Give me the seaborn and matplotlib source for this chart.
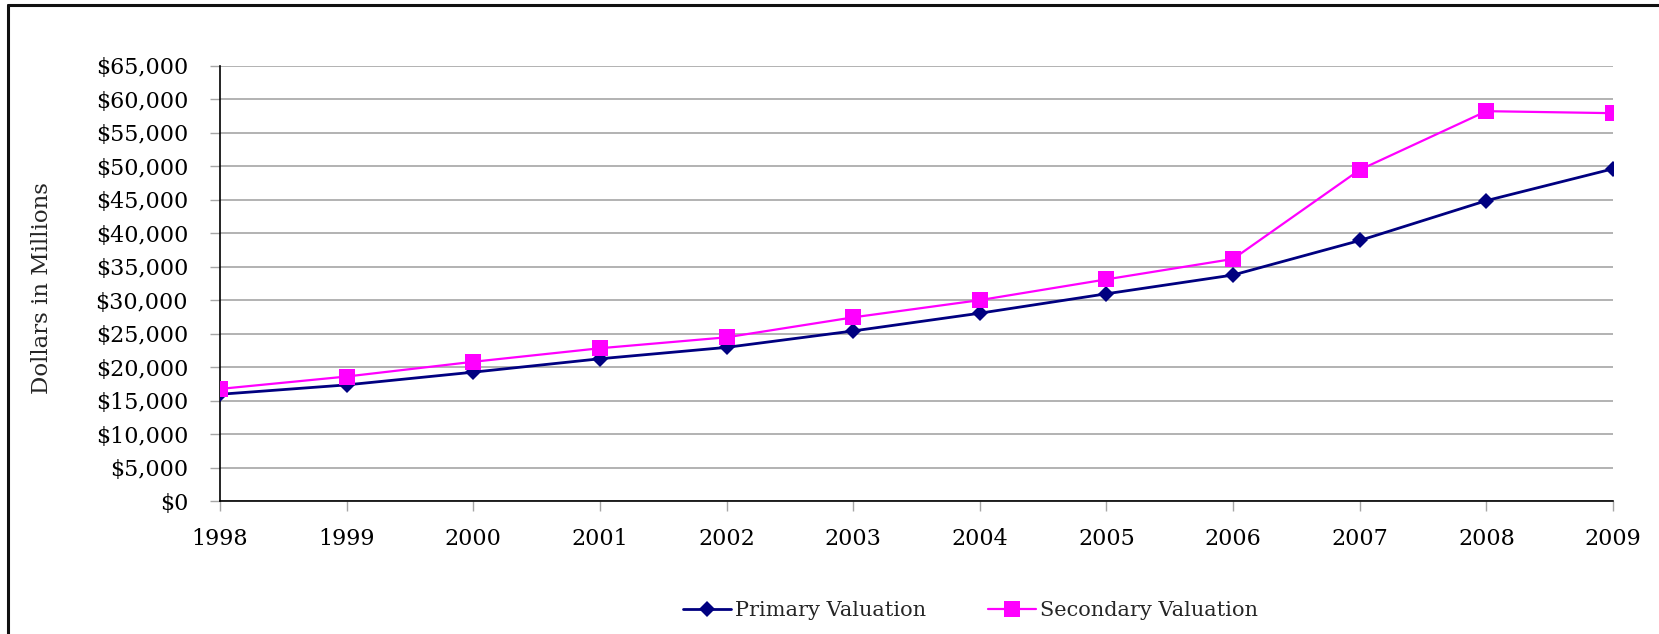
import numpy as np
import pandas as pd
import matplotlib
matplotlib.use('Agg')
import matplotlib.pyplot as plt
import matplotlib.ticker as mticker
from matplotlib.lines import Line2D
import seaborn as sns

years = [1998, 1999, 2000, 2001, 2002, 2003, 2004, 2005, 2006, 2007, 2008, 2009]
primary = [16000, 17400, 19300, 21300, 23000, 25450, 28100, 31000, 33800, 38950, 44900, 49650]
secondary = [16800, 18650, 20850, 22870, 24500, 27480, 30050, 33150, 36200, 49500, 58250, 57950]
series_names = ['Primary Valuation', 'Secondary Valuation']
series_colors = ['#000080', '#FF00FF']
series_markers = ['D', 's']

df = pd.DataFrame({'Year': years, series_names[0]: primary, series_names[1]: secondary})
long_df = df.melt(id_vars='Year', var_name='Series', value_name='Value')

sns.set_style('white')
plt.rcParams['font.family'] = ['DejaVu Serif']

fig = plt.figure(figsize=(16.59, 6.34), dpi=100)
ax = fig.add_axes([0.1326, 0.2090, 0.9723 - 0.1326, 0.8960 - 0.2090])

for name, color, marker, msize, lw in zip(series_names, series_colors, series_markers, [8.5, 11.5], [2.0, 1.6]):
    sub = long_df[long_df['Series'] == name]
    sns.lineplot(data=sub, x='Year', y='Value', ax=ax, color=color, marker=marker,
                 markersize=msize, markeredgewidth=0, linewidth=lw, label=name, zorder=3)

ax.set_xlim(years[0], years[-1])
ax.set_ylim(0, 65000)
ax.set_xticks(years)
ax.set_yticks(np.arange(0, 65001, 5000))
ax.yaxis.set_major_formatter(mticker.FuncFormatter(lambda v, p: f'${v:,.0f}'))
ax.grid(axis='y', color='#a6a6a6', linewidth=1.2, zorder=0)
ax.grid(axis='x', visible=False)

for s in ['top', 'right']:
    ax.spines[s].set_visible(False)
for s in ['left', 'bottom']:
    ax.spines[s].set_color('black')
    ax.spines[s].set_linewidth(1.2)

ax.tick_params(axis='both', labelsize=16, colors='#a6a6a6', labelcolor='black',
               length=7, width=1, direction='out', left=True, bottom=True)
ax.tick_params(axis='x', pad=12)
ax.tick_params(axis='y', pad=16)
ax.set_xlabel('')
ax.set_ylabel('Dollars in Millions', fontsize=16.5)
ax.yaxis.set_label_coords(-0.12, 0.49)

ax.get_legend().remove()
handles, labels = ax.get_legend_handles_labels()
fig.legend(handles, labels, loc='center', bbox_to_anchor=(0.585, 0.037), ncol=2, frameon=False,
           fontsize=15, handlelength=2.3, handletextpad=0.2, columnspacing=3.0)

# outer chart border (top and left only visible)
fig.add_artist(Line2D([0.0048, 0.0048], [0, 0.992], transform=fig.transFigure, color='#111111', linewidth=2.2))
fig.add_artist(Line2D([0.0048, 1.0], [0.992, 0.992], transform=fig.transFigure, color='#111111', linewidth=2.2))

plt.savefig('out.png', dpi=100)
